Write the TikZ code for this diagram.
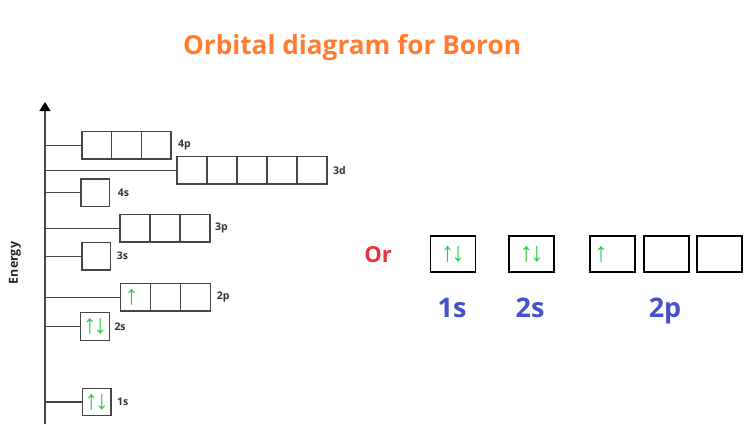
\documentclass[tikz,border=0pt]{standalone}
\usepackage{fontspec}
\setmainfont{Open Sans}
\newfontfamily\arrowfont{Liberation Sans}
\usetikzlibrary{arrows.meta}
\definecolor{ttl}{RGB}{255,125,50}
\definecolor{orred}{RGB}{232,50,60}
\definecolor{lblue}{RGB}{70,80,200}
\definecolor{spin}{RGB}{40,205,70}
\definecolor{boxg}{RGB}{70,70,70}
\newcommand{\updn}{↑\kern-3pt↓}
\tikzset{
  orb/.style={draw=boxg, line width=1.3pt, minimum width=29.5pt, minimum height=27.5pt, inner sep=0pt, outer sep=0pt},
  orbr/.style={draw=black, line width=1.6pt, minimum width=45pt, minimum height=36pt, inner sep=0pt, outer sep=0pt},
  lvl/.style={draw=boxg, line width=1.2pt},
  sub/.style={font=\fontsize{10.5}{10.5}\selectfont\bfseries, text=black!80, anchor=west, inner sep=0pt},
  spinf/.style={font=\arrowfont\fontsize{27}{27}\selectfont, text=spin, inner sep=0pt},
  big/.style={font=\fontsize{27}{27}\selectfont\bfseries, text=lblue, inner sep=0pt, anchor=base}
}
\begin{document}
\begin{tikzpicture}[x=1pt,y=-1pt]
\useasboundingbox (0,0) rectangle (751,424);
% title
\node[font=\fontsize{26.2}{26.2}\selectfont\bfseries, text=ttl] (title) at (352,48) {Orbital diagram for Boron};
% axis
\coordinate (axbot) at (45,424);
\coordinate (axtop) at (45,102);
\draw[draw=boxg, line width=1.3pt, -{Triangle[width=11pt,length=9pt,color=black]}] (axbot) -- (axtop);
\node[rotate=90, font=\fontsize{12.5}{12.5}\selectfont\bfseries, text=black!85] (energy) at (15,263) {Energy};
% 4p
\foreach \i in {1,2,3} \node[orb] (p4-\i) at ({82+14.75+29.7*(\i-1)},145.3) {};
\coordinate (a4p) at (45,145.3);
\draw[lvl] (a4p) -- (p4-1.west);
\node[sub] (l4p) at ([xshift=7pt]p4-3.east) {4p};
% 3d
\foreach \i in {1,2,3,4,5} \node[orb, minimum width=30pt] (d3-\i) at ({177+15+30*(\i-1)},170.3) {};
\coordinate (a3d) at (45,170.3);
\draw[lvl] (a3d) -- (d3-1.west);
\node[sub] (l3d) at ([xshift=6pt]d3-5.east) {3d};
% 4s
\node[orb, minimum width=28.7pt] (s4) at (95.4,192.7) {};
\coordinate (a4s) at (45,192.7);
\draw[lvl] (a4s) -- (s4.west);
\node[sub] (l4s) at ([xshift=8pt]s4.east) {4s};
% 3p
\foreach \i in {1,2,3} \node[orb, minimum width=30pt] (p3-\i) at ({120+15+30*(\i-1)},228.3) {};
\coordinate (a3p) at (45,228.3);
\draw[lvl] (a3p) -- (p3-1.west);
\node[sub] (l3p) at ([xshift=5pt]p3-3.east) {3p};
% 3s
\node[orb, minimum width=28.7pt] (s3) at (96.4,256.2) {};
\coordinate (a3s) at (45,256.2);
\draw[lvl] (a3s) -- (s3.west);
\node[sub] (l3s) at ([xshift=6pt]s3.east) {3s};
% 2p
\foreach \i in {1,2,3} \node[orb, minimum width=30pt] (p2-\i) at ({120.7+15+30*(\i-1)},297.3) {};
\coordinate (a2p) at (45,297.3);
\draw[lvl] (a2p) -- (p2-1.west);
\node[sub] (l2p) at ([xshift=6pt]p2-3.east) {2p};
\node[spinf, anchor=west] (e2p) at ([xshift=4pt]p2-1.west) {↑};
% 2s
\node[orb, minimum width=28.6pt] (s2) at (95,326.5) {};
\coordinate (a2s) at (45,326.5);
\draw[lvl] (a2s) -- (s2.west);
\node[sub] (l2s) at ([xshift=5pt]s2.east) {2s};
\node[spinf] (e2s) at (s2) {\updn};
% 1s
\node[orb, minimum width=28.7pt] (s1) at (96.6,402) {};
\coordinate (a1s) at (45,402);
\draw[lvl] (a1s) -- (s1.west);
\node[sub] (l1s) at ([xshift=6pt]s1.east) {1s};
\node[spinf] (e1s) at (s1) {\updn};
% right side
\node[font=\fontsize{22}{22}\selectfont\bfseries, text=orred] (or) at (378,255) {Or};
\node[orbr] (r1s) at (452.8,254.2) {};
\node[spinf] (er1s) at (r1s) {\updn};
\node[orbr] (r2s) at (531.7,254.2) {};
\node[spinf] (er2s) at (r2s) {\updn};
\node[orbr] (r2p-1) at (612.7,254.2) {};
\node[orbr] (r2p-2) at (666.2,254.2) {};
\node[orbr] (r2p-3) at (719.5,254.2) {};
\node[spinf, anchor=west] (er2p) at ([xshift=4pt]r2p-1.west) {↑};
\node[big] (t1s) at (452,317) {1s};
\node[big] (t2s) at (530,317) {2s};
\node[big] (t2p) at (665,317) {2p};
\end{tikzpicture}
\end{document}
